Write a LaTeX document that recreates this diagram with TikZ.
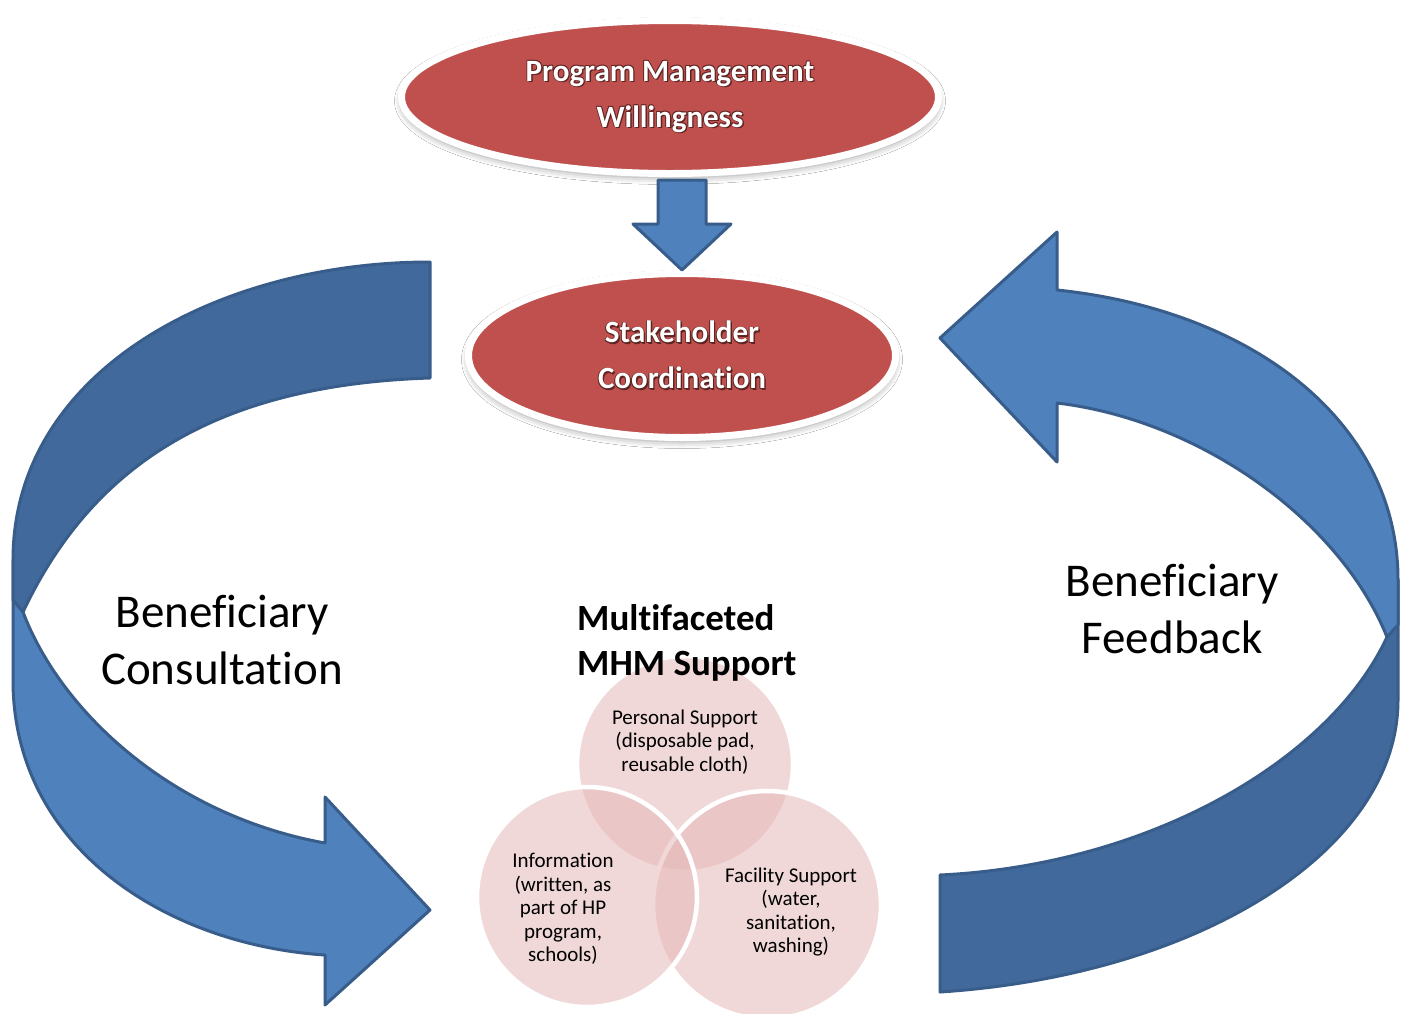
\documentclass[tikz,border=0pt]{standalone}
\usepackage{fontspec}
\setmainfont{Carlito}[Ligatures=NoCommon]
\usetikzlibrary{shapes.geometric,shadows.blur,calc}

\definecolor{ovalred}{HTML}{C0504D}
\definecolor{bluelight}{HTML}{4F81BD}
\definecolor{bluedark}{HTML}{41699C}
\definecolor{blueline}{HTML}{385D8A}
\definecolor{vennpink}{HTML}{E6B9B8}
\definecolor{halo}{HTML}{5E2422}

% white lettering with a dark halo behind it
\newcommand\haloed[1]{\leavevmode
  \rlap{\color{halo}\kern1.4pt\raisebox{-1.4pt}{#1}}%
  \rlap{\color{halo}\kern-0.7pt\raisebox{0.7pt}{#1}}%
  \rlap{\color{halo}\kern0.7pt\raisebox{0.7pt}{#1}}%
  \rlap{\color{halo}\kern-0.7pt\raisebox{-0.7pt}{#1}}%
  #1}

\tikzset{
  oval/.style={ellipse, fill=ovalred, draw=white, line width=7pt, inner sep=0pt,
    text=white, align=center, font=\bfseries\fontsize{31}{46}\selectfont,
    blur shadow={shadow xshift=0pt, shadow yshift=-4pt, shadow blur radius=7pt, shadow opacity=40}},
  blockarrow/.style={fill=bluelight, draw=blueline, line width=3pt, line join=round},
  ribbonlight/.style={fill=bluelight, draw=blueline, line width=3pt, line join=round},
  ribbondark/.style={fill=bluedark, draw=blueline, line width=3pt, line join=round},
  bigtext/.style={inner sep=0pt, align=center, font=\fontsize{47}{57}\selectfont},
  venn/.style={circle, fill=vennpink, fill opacity=0.55, draw=white, line width=4.5pt, inner sep=0pt},
  venntext/.style={inner sep=0pt, align=center, text=black, font=\fontsize{21}{23.5}\selectfont},
}

\begin{document}
\begin{tikzpicture}[x=1pt, y=-1pt]
  \fill[white] (0,0) rectangle (1409,1013);
  \useasboundingbox (0,0) rectangle (1409,1013);

  % left ribbon arrow (consultation)
  \draw[ribbonlight] (13,560) -- (13,680) .. controls (13,850) and (170,945) .. (325,955)
    -- (325,1005) -- (430,910) -- (325,797) -- (325,843)
    .. controls (170,815) and (60,710) .. (23,612) -- cycle;
  \draw[ribbondark] (430,262) .. controls (220,262) and (13,370) .. (13,560) -- (13,600) -- (23,612)
    .. controls (90,470) and (210,385) .. (430,378) -- cycle;

  % right ribbon arrow (feedback)
  \draw[ribbondark] (1398,580) -- (1398,700) .. controls (1398,850) and (1200,975) .. (940,992)
    -- (940,875) .. controls (1150,865) and (1330,760) .. (1387,637) -- cycle;
  \draw[ribbonlight] (1057,290) .. controls (1250,310) and (1398,420) .. (1398,580) -- (1398,625) -- (1387,637)
    .. controls (1340,520) and (1200,420) .. (1057,403) -- (1057,462) -- (940,338) -- (1057,232) -- cycle;

  % ovals
  \node[oval, minimum width=537pt, minimum height=153pt] (pm) at (670,97)
    {\haloed{Program Management}\\\haloed{Willingness}};
  \node[oval, minimum width=427pt, minimum height=164pt] (sc) at (682,355.5)
    {\haloed{Stakeholder}\\\haloed{Coordination}};

  % block arrow between the ovals
  \coordinate (tip) at (sc.north);
  \draw[blockarrow] ($(pm.south -| tip)+(-24,3)$) -- ($(pm.south -| tip)+(24,3)$)
    -- ($(tip)+(24,-46)$) -- ($(tip)+(49,-46)$) -- (tip)
    -- ($(tip)+(-49,-46)$) -- ($(tip)+(-24,-46)$) -- cycle;

  % side labels
  \node[bigtext] (consult) at (222,640) {Beneficiary\\Consultation};
  \node[bigtext] (feedback) at (1172,609) {Beneficiary\\Feedback};

  % venn of support types
  \node[venn, minimum size=216pt] (vp) at (685,764) {};
  \node[venn, minimum size=228pt] (vf) at (767,905) {};
  \node[venn, minimum size=220pt] (vi) at (587,897) {};

  \node[venntext] (tp) at ($(vp.center)+(0,-22)$) {Personal Support\\(disposable pad,\\reusable cloth)};
  \node[venntext] (ti) at ($(vi.center)+(-24,12)$) {Information\\(written, as\\part of HP\\program,\\schools)};
  \node[venntext] (tf) at ($(vf.center)+(24,7)$) {Facility Support\\(water,\\sanitation,\\washing)};

  \node[anchor=west, inner sep=0pt, align=left, font=\bfseries\fontsize{37}{45}\selectfont] (mhm)
    at (577,643) {Multifaceted\\MHM Support};
\end{tikzpicture}
\end{document}
